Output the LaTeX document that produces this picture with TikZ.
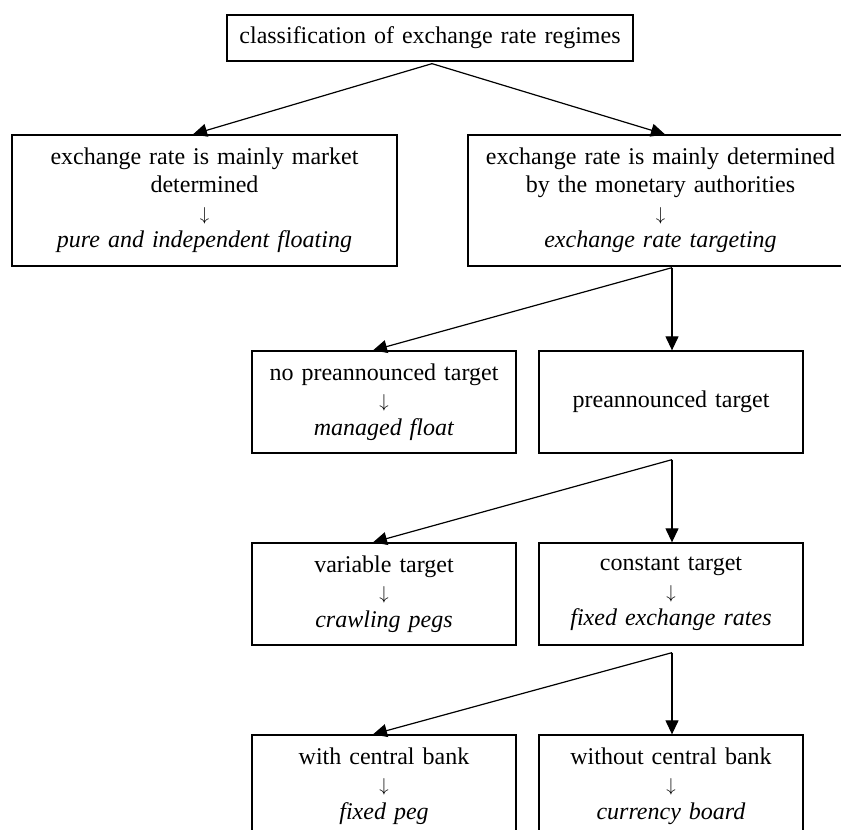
\documentclass[tikz,border=0pt]{standalone}
\usepackage{graphicx}
\usepackage{fontspec}
\setmainfont{Liberation Serif}[ItalicFont={Liberation Serif Italic}]
\usetikzlibrary{arrows.meta}
\newcommand{\dnarrow}{\smash{\scalebox{0.75}{$\downarrow$}}}
\begin{document}
\begin{tikzpicture}[x=1pt,y=-1pt,
  box/.style={draw, line width=1.3pt, inner xsep=8pt, inner ysep=0pt, align=center,
    font=\fontsize{24}{27.6}\selectfont},
  bigbox/.style={box, text width=369pt, minimum height=131pt},
  smallbox/.style={box, text width=248pt, minimum height=102pt},
  conn/.style={line width=1.2pt, -{Triangle[length=14pt,width=13pt]}}]
\useasboundingbox (0,0) rectangle (841,830);
\clip (0,0) rectangle (841,830);
\fill[white] (0,0) rectangle (841,830);

\node[box, text width=390pt, minimum height=46pt] (top) at (430,38) {classification of exchange rate regimes};
\node[bigbox] (left) at (204.5,200.5) {exchange rate is mainly market\\determined\\\dnarrow\\\textit{pure and independent floating}};
\node[bigbox] (right) at (660.5,200.5) {exchange rate is mainly determined\\by the monetary authorities\\\dnarrow\\\textit{exchange rate targeting}};
\node[smallbox] (nopre) at (384,402) {no preannounced target\\\dnarrow\\\textit{managed float}};
\node[smallbox] (pre) at (671,402) {preannounced target};
\node[smallbox] (var) at (384,594) {variable target\\\dnarrow\\\textit{crawling pegs}};
\node[smallbox] (const) at (671,594) {constant target\\\dnarrow\\\textit{fixed exchange rates}};
\node[smallbox] (with) at (384,786) {with central bank\\\dnarrow\\\textit{fixed peg}};
\node[smallbox] (without) at (671,786) {without central bank\\\dnarrow\\\textit{currency board}};

\coordinate (s0) at ([xshift=2pt,yshift=-2pt]top.south);
\coordinate (s1) at ([xshift=11.5pt,yshift=-1pt]right.south);
\coordinate (s2) at ([xshift=1pt,yshift=-6pt]pre.south);
\coordinate (s3) at ([xshift=1pt,yshift=-7pt]const.south);

\draw[conn] (s0) -- ([xshift=-11.5pt]left.north);
\draw[conn] (s0) -- ([xshift=4.5pt]right.north);
\draw[conn] (s1) -- ([xshift=-11pt]nopre.north);
\draw[conn] (s1) -- ([xshift=1pt]pre.north);
\draw[conn] (s2) -- ([xshift=-11pt]var.north);
\draw[conn] (s2) -- ([xshift=1pt]const.north);
\draw[conn] (s3) -- ([xshift=-11pt]with.north);
\draw[conn] (s3) -- ([xshift=1pt]without.north);
\end{tikzpicture}
\end{document}
